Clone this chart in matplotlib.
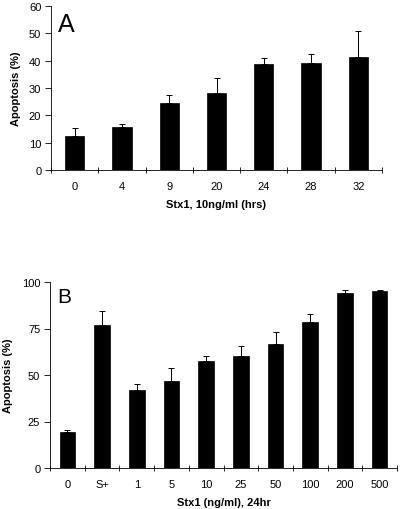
import numpy as np
import matplotlib
matplotlib.use("Agg")
import matplotlib.pyplot as plt

plt.rcParams['font.family'] = ['Liberation Sans', 'DejaVu Sans']

# Panel A data: time course at 10 ng/ml
hours_labels = ["0", "4", "9", "20", "24", "28", "32"]
hours_vals = [12.5, 15.7, 24.4, 28.3, 38.8, 39.0, 41.2]
hours_err = [3.0, 1.2, 2.9, 5.4, 2.1, 3.3, 9.6]

# Panel B data: dose response at 24 hr
dose_labels = ["0", "S+", "1", "5", "10", "25", "50", "100", "200", "500"]
dose_vals = [19.2, 77.0, 41.7, 46.8, 57.4, 60.1, 66.9, 78.4, 94.1, 95.0]
dose_err = [1.1, 7.5, 3.3, 6.8, 2.7, 5.7, 6.1, 4.3, 1.8, 0.7]

fig = plt.figure(figsize=(4.0, 5.1), dpi=100)


def panel(ax, labels, vals, errs, width, yticks, ylim, xlabel, letter, letter_pos,
          letter_size, ylabelpad, xlabelpad):
    x = np.arange(len(labels))
    ax.bar(x, vals, width=width, color="black", edgecolor="black", linewidth=0.5)
    ax.errorbar(x, vals, yerr=[np.zeros(len(errs)), errs], fmt="none",
                ecolor="black", elinewidth=0.7, capsize=2.5, capthick=0.7)
    ax.set_xlim(-0.5, len(labels) - 0.5)
    ax.set_ylim(*ylim)
    ax.set_yticks(yticks)
    ax.set_xticks(x)
    ax.set_xticklabels(labels)
    ax.set_xticks(np.arange(len(labels) + 1) - 0.5, minor=True)
    ax.tick_params(axis="x", which="major", length=0, labelsize=8, pad=8)
    ax.tick_params(axis="x", which="minor", direction="inout", length=5, width=0.6)
    ax.tick_params(axis="y", direction="out", length=4, width=0.6, labelsize=8, pad=3)
    for s in ["top", "right"]:
        ax.spines[s].set_visible(False)
    for s in ["left", "bottom"]:
        ax.spines[s].set_linewidth(0.6)
    ax.set_ylabel("Apoptosis (%)", fontsize=8, fontweight="bold", labelpad=ylabelpad)
    ax.set_xlabel(xlabel, fontsize=8, fontweight="bold", labelpad=xlabelpad)
    ax.text(letter_pos[0], letter_pos[1], letter, transform=ax.transAxes,
            fontsize=letter_size, ha="left", va="center")


axA = fig.add_axes([51 / 400, 1 - 171 / 510, 331 / 400, 164 / 510])
panel(axA, hours_labels, hours_vals, hours_err, 0.41, np.arange(0, 61, 10), (0, 60),
      "Stx1, 10ng/ml (hrs)", "A", (0.022, 0.89), 18, 6, 6)

axB = fig.add_axes([50 / 400, 1 - 469 / 510, 347 / 400, 186 / 510])
panel(axB, dose_labels, dose_vals, dose_err, 0.45, [0, 25, 50, 75, 100], (0, 100),
      "Stx1 (ng/ml), 24hr", "B", (0.02, 0.92), 15, 6, 6)

fig.savefig("out.png", dpi=100)
